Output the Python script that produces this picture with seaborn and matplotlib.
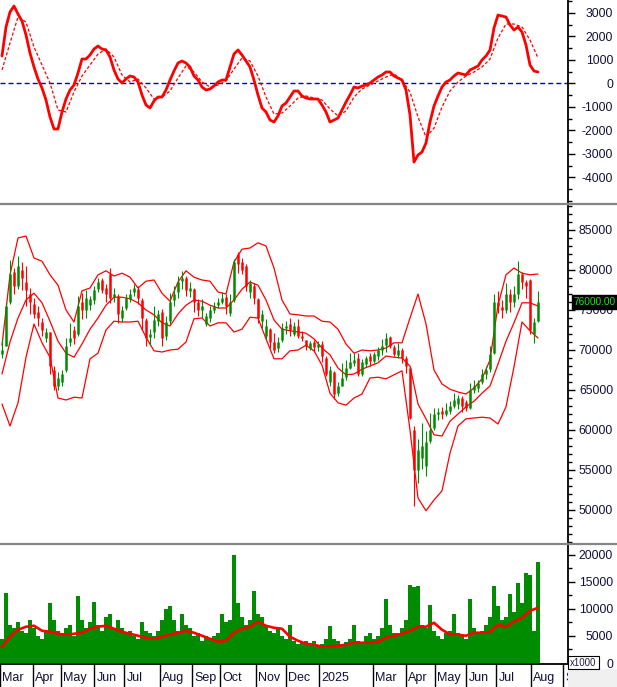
import numpy as np
import pandas as pd
import matplotlib
matplotlib.use("Agg")
import matplotlib.pyplot as plt
import seaborn as sns
from matplotlib.ticker import FixedLocator, MultipleLocator, FuncFormatter
from matplotlib.patches import Rectangle
from matplotlib.lines import Line2D
import matplotlib.transforms as mtransforms

# ---------------- data (prices in thousand VND) ----------------
open_k = [69.5, 70.5, 76.0, 79.8, 78.0, 80.0, 78.5, 77.0, 75.8, 74.8,
          73.5, 71.5, 72.2, 67.5, 65.5, 66.0, 67.5, 71.0, 72.5, 72.0,
          76.0, 75.0, 75.6, 76.2, 77.6, 78.8, 77.8, 79.5, 76.6, 76.8,
          74.0, 75.2, 76.4, 77.2, 77.6, 76.2, 73.8, 71.6, 72.2, 73.6,
          74.8, 71.8, 73.6, 76.2, 77.2, 78.6, 79.0, 77.4, 77.6, 76.0,
          75.0, 73.2, 74.0, 75.0, 75.6, 76.0, 76.6, 74.6, 76.2, 82.0,
          81.0, 80.5, 77.2, 78.0, 76.4, 73.6, 71.8, 72.6, 71.0, 70.2,
          71.2, 72.8, 73.2, 72.0, 73.0, 71.8, 71.2, 70.2, 71.0, 70.4,
          70.8, 69.0, 66.0, 67.2, 64.6, 65.5, 66.6, 67.8, 68.4, 69.0,
          67.0, 68.2, 69.2, 68.6, 69.2, 70.0, 70.6, 71.6, 70.4, 69.4,
          70.0, 69.0, 67.8, 60.0, 55.0, 56.5, 55.5, 58.6, 60.2, 62.0,
          62.4, 62.0, 62.4, 63.0, 63.2, 64.0, 63.5, 62.8, 65.0, 65.2,
          66.0, 67.0, 67.6, 69.6, 76.0, 75.4, 75.0, 77.0, 76.0, 77.0,
          79.5, 78.5, 78.8, 72.0, 73.6]
high_k = [71.5, 76.0, 81.2, 80.3, 81.8, 81.0, 80.5, 77.8, 76.5, 75.5,
          74.0, 72.8, 72.3, 68.0, 67.2, 67.5, 71.5, 73.4, 73.0, 76.8,
          77.1, 77.5, 76.8, 78.0, 79.0, 79.0, 78.3, 80.3, 77.8, 77.0,
          75.5, 77.0, 77.6, 78.2, 78.0, 76.5, 74.0, 72.6, 75.5, 75.0,
          75.1, 74.2, 77.1, 78.0, 79.3, 79.9, 79.3, 78.5, 77.8, 76.4,
          76.4, 74.6, 75.5, 76.0, 76.5, 77.2, 77.0, 77.0, 81.4, 82.3,
          81.5, 80.7, 78.8, 78.4, 76.5, 75.0, 73.9, 72.8, 72.1, 71.6,
          73.4, 73.6, 74.0, 73.5, 73.9, 72.4, 71.3, 71.1, 71.2, 71.1,
          71.1, 69.2, 68.0, 67.4, 66.0, 68.4, 68.8, 69.6, 69.6, 69.6,
          68.9, 69.3, 69.6, 69.8, 70.4, 71.4, 72.1, 71.8, 70.6, 70.9,
          70.2, 69.2, 67.9, 60.5, 58.9, 60.9, 59.9, 62.1, 62.8, 62.8,
          62.9, 63.4, 63.6, 64.6, 64.4, 64.2, 63.8, 65.9, 66.2, 66.2,
          67.6, 68.0, 70.5, 77.0, 77.4, 76.2, 78.4, 77.6, 78.0, 81.1,
          79.8, 78.8, 78.9, 74.0, 77.4]
low_k = [69.0, 70.5, 75.8, 77.0, 77.6, 77.5, 75.5, 74.5, 74.0, 73.0,
         71.8, 71.0, 67.0, 65.0, 65.0, 65.5, 67.3, 70.5, 70.8, 71.8,
         73.9, 74.0, 75.0, 75.8, 77.2, 77.1, 76.0, 75.9, 76.0, 73.4,
         73.5, 75.0, 76.0, 76.8, 75.8, 72.5, 70.5, 70.6, 71.5, 73.0,
         70.5, 71.2, 73.3, 75.5, 76.5, 77.6, 76.8, 76.6, 74.8, 74.2,
         74.0, 73.0, 73.5, 74.6, 75.2, 75.8, 74.5, 74.2, 76.0, 79.6,
         79.5, 77.4, 76.5, 75.8, 73.4, 72.8, 71.4, 70.2, 69.6, 69.8,
         71.0, 72.0, 71.8, 71.8, 71.5, 71.1, 70.0, 70.0, 69.9, 69.9,
         68.5, 66.8, 65.5, 63.9, 64.2, 65.5, 66.2, 67.6, 68.0, 66.8,
         66.8, 67.9, 68.0, 68.4, 68.8, 69.4, 69.8, 70.2, 69.2, 69.0,
         68.4, 67.1, 61.4, 50.5, 53.4, 55.1, 54.3, 58.4, 60.0, 61.2,
         61.4, 61.8, 62.0, 62.8, 62.6, 62.2, 62.4, 62.6, 64.6, 64.8,
         65.8, 66.4, 67.3, 69.5, 74.6, 74.0, 74.6, 74.8, 75.4, 76.4,
         77.6, 76.5, 72.0, 70.9, 73.5]
close_k = [70.0, 75.5, 79.5, 78.0, 80.5, 79.0, 77.5, 76.0, 74.5, 74.0,
           72.5, 72.2, 68.0, 65.5, 66.5, 67.0, 70.5, 71.5, 71.5, 75.5,
           75.0, 76.5, 76.4, 77.5, 78.5, 77.5, 77.0, 76.5, 77.0, 74.5,
           75.0, 76.5, 77.0, 77.8, 76.5, 74.0, 71.5, 72.0, 73.8, 74.5,
           71.5, 73.5, 76.0, 77.0, 78.5, 79.0, 77.5, 77.8, 76.0, 75.0,
           75.5, 74.2, 75.0, 75.5, 76.0, 76.5, 75.5, 76.0, 81.0, 80.8,
           80.0, 78.0, 78.4, 76.5, 74.0, 74.5, 73.0, 71.0, 70.0, 71.0,
           72.8, 73.0, 72.5, 73.0, 71.8, 71.5, 70.5, 70.9, 70.4, 70.8,
           69.2, 67.0, 67.5, 64.5, 65.5, 66.5, 67.8, 68.5, 68.8, 67.0,
           68.5, 69.0, 68.6, 69.5, 70.0, 70.5, 71.5, 70.5, 69.5, 70.0,
           69.0, 68.0, 61.5, 55.0, 57.5, 58.0, 58.5, 60.0, 62.0, 62.3,
           62.0, 62.5, 63.0, 63.8, 64.0, 63.0, 62.8, 65.0, 65.5, 65.9,
           67.0, 67.5, 69.5, 76.0, 75.5, 75.0, 77.0, 76.0, 77.0, 79.5,
           78.5, 78.0, 72.5, 73.5, 76.0]
volume = [4500, 13000, 7000, 6500, 7500, 6000, 5500, 8000, 6500, 5000,
          4500, 6000, 11000, 8000, 6000, 5500, 6500, 7000, 5000, 12300,
          8000, 6500, 7500, 11200, 7000, 6000, 8500, 9000, 6500, 8000,
          6500, 5500, 6000, 5000, 4500, 7500, 6000, 5500, 5000, 6000,
          8000, 10000, 10500, 8000, 6000, 9000, 7000, 6500, 5000, 5500,
          4000, 5000, 4500, 5000, 5500, 9000, 7500, 8000, 20000, 11000,
          8500, 7000, 8000, 13300, 9000, 8500, 7000, 6000, 5500, 6500,
          5000, 4500, 7000, 4000, 3500, 3800, 4000, 3500, 4000, 3200,
          3500, 4500, 6800, 4500, 4000, 3500, 3800, 4500, 7000, 4000,
          3800, 5000, 5500, 4500, 5000, 6500, 11900, 7000, 5500, 5500,
          6500, 8000, 14400, 14000, 14200, 7000, 6500, 10800, 6000, 5000,
          4500, 5500, 6000, 9000, 5500, 5000, 4500, 11900, 6500, 5500,
          6000, 7000, 8500, 14200, 10500, 8000, 8500, 12800, 9500, 14800,
          11000, 16600, 16300, 6000, 18700]
macd = [1162, 2396, 3034, 3289, 2949, 2651, 2055, 1289, 694, 183,
        -200, -711, -1434, -1945, -1945, -1221, -668, -285, -72, 438,
        1034, 1034, 1204, 1459, 1587, 1459, 1417, 1119, 566, 183,
        13, 183, 311, 268, 55, -498, -923, -1051, -753, -583,
        -583, -285, 140, 523, 864, 949, 864, 694, 311, 140,
        -157, -285, -243, -115, 55, 140, 140, 694, 1247, 1417,
        1204, 949, 694, 140, -498, -1051, -1221, -1561, -1647, -1391,
        -966, -838, -583, -328, -328, -540, -625, -668, -668, -668,
        -923, -1221, -1647, -1561, -1477, -1136, -796, -498, -157, -200,
        -115, -72, 13, 140, 268, 353, 481, 481, 311, 226,
        140, -285, -1349, -3353, -3051, -2923, -2540, -1647, -966, -540,
        -157, 55, 140, 311, 438, 396, 353, 566, 651, 736,
        991, 1162, 1417, 2353, 2906, 2864, 2821, 2481, 2268, 2396,
        2183, 1630, 779, 523, 481]

# indicator lines read every second bar
bb_upper_k = [70.6, 79.4, 84.0, 84.25, 81.5, 81.1, 79.4, 78.1, 75.0, 73.5,
              77.4, 77.75, 79.4, 79.9, 79.25, 79.6, 79.1, 77.75, 78.6, 78.75,
              77.1, 76.1, 78.5, 79.9, 79.1, 78.75, 78.6, 77.25, 77.0, 81.0,
              82.6, 82.75, 83.4, 83.0, 80.25, 76.25, 74.5, 74.4, 74.25, 74.25,
              73.6, 73.5, 72.6, 70.75, 69.6, 70.0, 69.9, 70.0, 70.25, 70.9,
              70.9, 74.0, 77.0, 73.25, 67.5, 65.75, 65.1, 64.75, 64.5, 65.25,
              66.4, 68.75, 75.6, 79.4, 80.25, 79.6, 79.4, 79.5]
bb_mid_k = [67.0, 71.0, 74.0, 76.25, 77.1, 75.9, 73.6, 71.1, 69.6, 69.1,
            70.75, 72.6, 74.0, 75.6, 76.6, 76.6, 76.4, 75.9, 75.0, 74.4,
            73.4, 73.0, 74.5, 75.6, 76.25, 76.1, 75.6, 75.25, 75.25, 76.25,
            77.6, 78.5, 78.1, 76.25, 73.75, 72.6, 72.4, 72.25, 72.1, 71.4,
            70.25, 69.4, 67.75, 66.9, 67.0, 67.6, 68.0, 68.4, 69.25, 69.1,
            69.0, 68.0, 63.25, 61.4, 59.4, 59.25, 61.1, 62.0, 62.9, 63.6,
            64.6, 65.5, 68.25, 71.1, 73.4, 75.9, 75.9, 75.5]
bb_lower_k = [63.25, 60.5, 63.4, 69.1, 73.25, 70.9, 69.1, 64.0, 63.75, 64.1,
              64.0, 68.9, 69.6, 72.5, 73.6, 73.5, 73.5, 73.6, 71.6, 69.9,
              69.75, 70.0, 70.1, 71.0, 73.9, 74.0, 73.0, 73.4, 73.4, 72.25,
              72.6, 74.1, 74.0, 71.4, 68.9, 68.9, 69.9, 70.0, 70.6, 69.9,
              68.1, 64.6, 63.4, 63.1, 64.0, 64.5, 66.5, 66.6, 66.4, 66.9,
              67.4, 60.0, 51.5, 49.9, 51.25, 52.4, 57.1, 60.5, 61.4, 61.5,
              61.6, 61.5, 60.75, 62.9, 67.9, 73.5, 72.4, 71.5]
signal = [566, 1715, 2821, 2609, 1545, 779, 13, -1136, -1221, -370,
          311, 779, 1247, 1460, 1119, 353, 55, 183, -200, -668,
          -583, -328, 226, 736, 481, 55, -157, -72, 98, 609,
          1077, 949, 311, -583, -1306, -1264, -966, -626, -540, -626,
          -711, -1094, -1391, -1179, -583, -243, -72, 98, 268, 396,
          140, -370, -1434, -2289, -1906, -1013, -328, 55, 311, 481,
          694, 1034, 1928, 2523, 2523, 2396, 1843, 1077]
vol_ma = [3007, 4850, 6140, 6700, 6880, 5960, 5770, 5400, 5220, 5400,
          5590, 6330, 6700, 6880, 6330, 5770, 5400, 5040, 4670, 4480,
          4850, 5220, 5590, 5960, 5590, 5040, 4480, 3930, 4110, 5590,
          6330, 6700, 7620, 6880, 6510, 6330, 4850, 4110, 3560, 3380,
          3010, 3100, 3190, 3380, 3750, 3750, 3750, 3930, 4670, 5040,
          5400, 5960, 6700, 6700, 7440, 6140, 5310, 5220, 5040, 5590,
          5590, 5770, 7070, 6700, 7620, 8360, 9650, 10200]

month_labels = ["Mar", "Apr", "May", "Jun", "Jul", "Aug", "Sep", "Oct", "Nov",
                "Dec", "2025", "Mar", "Apr", "May", "Jun", "Jul", "Aug", "Sep"]
month_starts = [0, 8.25, 15.25, 23.5, 31, 40, 48, 55, 64, 71.5, 79.75,
                93.25, 101.5, 108.75, 116.5, 124, 132.75, 140.75]

macd_ticks = [-4000, -3000, -2000, -1000, 0, 1000, 2000, 3000]
price_ticks = [50000, 55000, 60000, 65000, 70000, 75000, 80000, 85000]
vol_ticks = [0, 5000, 10000, 15000, 20000]

# ---------------- frames ----------------
n = len(close_k)
bars = pd.DataFrame({
    "i": np.arange(n) + 0.5,
    "open": np.array(open_k) * 1000, "high": np.array(high_k) * 1000,
    "low": np.array(low_k) * 1000, "close": np.array(close_k) * 1000,
    "volume": volume, "macd": macd,
})
m = len(signal)
ind = pd.DataFrame({
    "i": np.arange(m) * 2 + 0.5,
    "upper": np.array(bb_upper_k) * 1000, "mid": np.array(bb_mid_k) * 1000,
    "lower": np.array(bb_lower_k) * 1000,
    "signal": signal, "vol_ma": vol_ma,
})

# ---------------- style ----------------
sns.set_theme(style="white")
plt.rcParams['font.family'] = ['Liberation Sans', 'DejaVu Sans']
plt.rcParams['axes.unicode_minus'] = False

GREEN = "#008c00"
RED = "#ff0000"
LABEL = "#101038"

W, H = 617.0, 687.0
AXR = 567.5
XMAX = AXR / 4.0

fig = plt.figure(figsize=(W / 100, H / 100), dpi=100)
fig.patch.set_facecolor("white")


def add_ax(top, bottom):
    return fig.add_axes([0, 1 - bottom / H, AXR / W, (bottom - top) / H])


ax1 = add_ax(0, 203)
ax2 = add_ax(206, 543)
ax3 = add_ax(545, 663)
ax4 = add_ax(664, 687)

# MACD panel
ax1.axhline(0, color="#0000c8", lw=1.0, ls=(0, (3.6, 2.2)), zorder=1)
sns.lineplot(data=ind, x="i", y="signal", ax=ax1, color=RED, lw=0.9,
             linestyle=(0, (2.5, 1.6)), estimator=None, sort=False)
sns.lineplot(data=bars, x="i", y="macd", ax=ax1, color=RED, lw=2.0,
             estimator=None, sort=False)
ax1.set_ylim(-5094, 3545)

# price panel
for col in ("upper", "mid", "lower"):
    sns.lineplot(data=ind, x="i", y=col, ax=ax2, color=RED, lw=0.9,
                 estimator=None, sort=False)
up = bars["close"] >= bars["open"]
cols = np.where(up, GREEN, RED)
ax2.vlines(bars["i"], bars["low"], bars["high"], colors=cols, lw=0.8, zorder=3)
ax2.vlines(bars["i"], np.minimum(bars["open"], bars["close"]),
           np.maximum(bars["open"], bars["close"]), colors=cols, lw=1.8, zorder=3)
ax2.set_ylim(45875, 88000)

# volume panel
ax3.bar(bars["i"], bars["volume"], width=1.0, color=GREEN, linewidth=0, zorder=2)
sns.lineplot(data=ind, x="i", y="vol_ma", ax=ax3, color=RED, lw=1.9,
             estimator=None, sort=False, zorder=3)
ax3.set_ylim(0, 21800)

fmt = FuncFormatter(lambda v, p: f"{int(round(v))}")
for ax, ticks, minor in ((ax1, macd_ticks, 500), (ax2, price_ticks, 1000),
                         (ax3, vol_ticks, 2500)):
    ax.set_xlim(0, XMAX)
    ax.set_xlabel("")
    ax.set_ylabel("")
    ax.set_facecolor("white")
    ax.grid(False)
    for s in ("top", "left", "bottom"):
        ax.spines[s].set_visible(False)
    ax.spines["right"].set_visible(True)
    ax.spines["right"].set_color("black")
    ax.spines["right"].set_linewidth(1.3)
    ax.yaxis.set_major_locator(FixedLocator(ticks))
    ax.yaxis.set_minor_locator(MultipleLocator(minor))
    ax.yaxis.set_major_formatter(fmt)
    ax.yaxis.tick_right()
    ax.tick_params(axis="y", which="major", direction="out", length=5, width=1,
                   color="black", pad=27.8, labelsize=8.8, labelcolor=LABEL)
    ax.tick_params(axis="y", which="minor", direction="out", length=3, width=1,
                   color="black", left=False, right=True)
    ax.tick_params(axis="x", which="both", bottom=False, top=False,
                   labelbottom=False)
    for lab in ax.get_yticklabels():
        lab.set_horizontalalignment("right")

# last price box
tr = mtransforms.blended_transform_factory(ax2.transAxes, ax2.transData)
ax2.text(574.0 / AXR, bars["close"].iloc[-1], "76000.00", transform=tr,
         ha="left", va="center", fontsize=7.3, color="#22e022",
         clip_on=False, zorder=20,
         bbox=dict(boxstyle="square,pad=0.15", fc="black", ec="black"))

# x1000 box
fig.text(583.5 / W, 1 - 662.5 / H, "x1000", ha="center", va="center",
         fontsize=7, color="#202040", zorder=20,
         bbox=dict(boxstyle="square,pad=0.2", fc="white", ec="black", lw=0.8))

# month strip
ax4.set_xlim(0, XMAX)
ax4.set_ylim(0, 1)
ax4.axis("off")
ax4.axhline(1, color="black", lw=1.3, clip_on=False)
for lab, pos in zip(month_labels, month_starts):
    ax4.vlines(pos, 0, 1, color="black", lw=1.0)
    ax4.text(pos + 0.6, 0.38, lab, ha="left", va="center", fontsize=9,
             color=LABEL, clip_on=True)

# gray corner and panel separators
fig.patches.append(Rectangle((AXR / W + 0.001, 0), 1, (H - 669) / H,
                             transform=fig.transFigure, fc="#f0f0f0",
                             ec="none", zorder=5))
for yy in (204.5, 544.0):
    fig.add_artist(Line2D([0, 1], [1 - yy / H, 1 - yy / H],
                          transform=fig.transFigure, color="#858585", lw=1.6))

fig.savefig("out.png", dpi=100, facecolor="white")
